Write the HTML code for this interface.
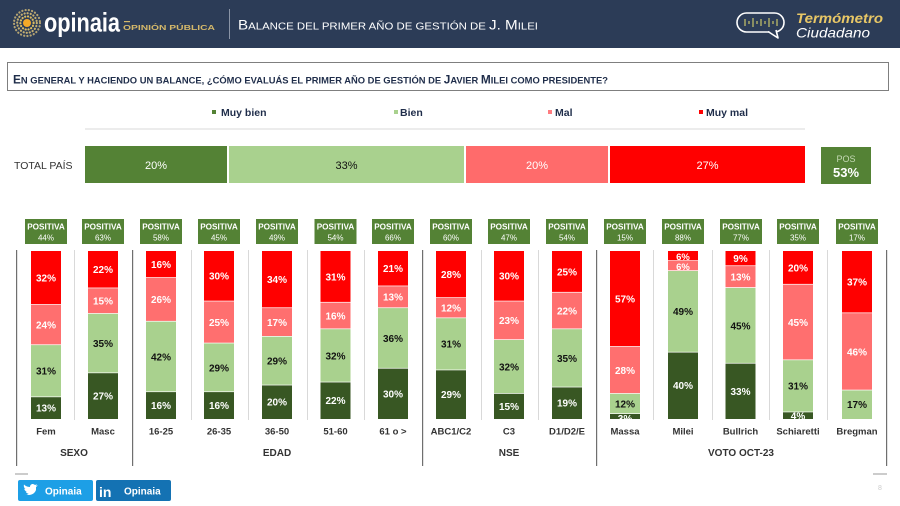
<!DOCTYPE html>
<html><head><meta charset="utf-8"><style>
html,body{margin:0;padding:0;background:#fff;}
svg{display:block;font-family:"Liberation Sans",sans-serif;}
.d{fill:#385723}.l{fill:#a9d18e}.p{fill:#ff6f6f}.r{fill:#ff0000}
.v text{font-size:10px;font-weight:bold;text-anchor:middle;}
.w{fill:#fff}.k{fill:#111}
.pb{fill:#548235}
.pt{font-size:8.2px;font-weight:bold;fill:#fff;text-anchor:middle}
.pp{font-size:8px;fill:#fff;text-anchor:middle}
.cl{font-size:9.5px;font-weight:bold;fill:#333;text-anchor:middle}
.gl{font-size:10px;font-weight:bold;fill:#333;text-anchor:middle}
.lg{font-size:10.5px;font-weight:bold;fill:#1f2d4a}
</style></head><body>
<svg width="900" height="506" viewBox="0 0 900 506" xmlns="http://www.w3.org/2000/svg">
<defs><clipPath id="bc"><rect x="0" y="251" width="900" height="168"/></clipPath></defs>
<!-- header -->
<rect x="0" y="0" width="900" height="48" fill="#2c3c57"/>
<circle cx="27" cy="23" r="13" fill="none" stroke="#b5a472" stroke-width="2.2" stroke-dasharray="0.1 3.2" stroke-linecap="round"/>
<circle cx="27" cy="23" r="9.8" fill="none" stroke="#c6b071" stroke-width="2.2" stroke-dasharray="0.1 3" stroke-linecap="round"/>
<circle cx="27" cy="23" r="6.6" fill="none" stroke="#d9bb62" stroke-width="2.2" stroke-dasharray="0.1 2.8" stroke-linecap="round"/>
<circle cx="27" cy="23" r="4" fill="#f3a928"/>
<text x="44" y="31.5" font-size="27" font-weight="bold" fill="#fff" textLength="76" lengthAdjust="spacingAndGlyphs">opinaia</text>
<rect x="124" y="21" width="6" height="1.2" fill="#d4b86a"/>
<text x="123" y="30" font-size="7" font-weight="bold" fill="#d4b86a" textLength="92" lengthAdjust="spacingAndGlyphs">OPINIÓN PÚBLICA</text>
<rect x="229" y="9" width="1" height="30" fill="#8a94a6"/>
<text x="238" y="29.5" fill="#fff" textLength="300" lengthAdjust="spacingAndGlyphs"><tspan font-size="14">B</tspan><tspan font-size="10.5">ALANCE DEL PRIMER AÑO DE GESTIÓN DE </tspan><tspan font-size="14">J. M</tspan><tspan font-size="10.5">ILEI</tspan></text>
<rect x="737" y="13" width="47" height="19" rx="9.5" fill="none" stroke="#fff" stroke-width="1.6"/>
<path d="M768,31.5 L778,38 L776,30" fill="#2c3c57" stroke="#fff" stroke-width="1.6" stroke-linejoin="round"/>
<g stroke="#c8c46a" stroke-width="1.2">
<line x1="745" y1="19" x2="745" y2="26"/><line x1="749" y1="21" x2="749" y2="24"/><line x1="753" y1="18" x2="753" y2="27"/><line x1="757" y1="21" x2="757" y2="24"/><line x1="761" y1="19" x2="761" y2="26"/><line x1="765" y1="21" x2="765" y2="24"/><line x1="769" y1="18" x2="769" y2="27"/><line x1="773" y1="21" x2="773" y2="24"/><line x1="777" y1="19" x2="777" y2="26"/>
</g>
<text x="796" y="23" font-size="14" font-weight="bold" font-style="italic" fill="#e8c766" textLength="87" lengthAdjust="spacingAndGlyphs">Termómetro</text>
<text x="796" y="37.5" font-size="14" font-style="italic" fill="#fff" textLength="74" lengthAdjust="spacingAndGlyphs">Ciudadano</text>

<!-- question -->
<rect x="7.5" y="62.5" width="881" height="28" fill="none" stroke="#7f7f7f" stroke-width="1"/>
<text x="13" y="83.5" fill="#1f2d4a" font-weight="bold" textLength="595" lengthAdjust="spacingAndGlyphs"><tspan font-size="12">E</tspan><tspan font-size="9.5">N GENERAL Y HACIENDO UN BALANCE, ¿CÓMO EVALUÁS EL PRIMER AÑO DE GESTIÓN DE </tspan><tspan font-size="12">J</tspan><tspan font-size="9.5">AVIER </tspan><tspan font-size="12">M</tspan><tspan font-size="9.5">ILEI COMO PRESIDENTE?</tspan></text>

<!-- legend -->
<rect x="212" y="110" width="4" height="4" fill="#548235"/><text class="lg" x="221" y="116">Muy bien</text>
<rect x="394" y="110" width="4" height="4" fill="#a9d18e"/><text class="lg" x="400" y="116">Bien</text>
<rect x="548" y="110" width="4" height="4" fill="#ff7c80"/><text class="lg" x="555" y="116">Mal</text>
<rect x="699" y="110" width="4" height="4" fill="#ff0000"/><text class="lg" x="706" y="116">Muy mal</text>
<rect x="85" y="128.5" width="720" height="1" fill="#d9d9d9"/>

<!-- total -->
<text x="14" y="169" font-size="10.5" fill="#333">TOTAL PAÍS</text>
<rect x="85" y="146" width="142" height="37" fill="#548235"/>
<rect x="229" y="146" width="235" height="37" fill="#a9d18e"/>
<rect x="466" y="146" width="142" height="37" fill="#ff6b6b"/>
<rect x="610" y="146" width="195" height="37" fill="#ff0000"/>
<g font-size="11" text-anchor="middle">
<text x="156" y="169" fill="#fff">20%</text>
<text x="346.5" y="169" fill="#111">33%</text>
<text x="537" y="169" fill="#fff">20%</text>
<text x="707.5" y="169" fill="#fff">27%</text>
</g>
<rect x="821" y="147" width="50" height="37" fill="#548235"/>
<text x="846" y="162" font-size="9" fill="#c5d9b5" text-anchor="middle">POS</text>
<text x="846" y="177" font-size="13" font-weight="bold" fill="#fff" text-anchor="middle">53%</text>

<!-- separators -->
<g fill="#d9d9d9">
<rect x="74" y="250" width="1" height="170"/><rect x="191" y="250" width="1" height="170"/><rect x="248" y="250" width="1" height="170"/><rect x="307" y="250" width="1" height="170"/><rect x="364" y="250" width="1" height="170"/><rect x="481" y="250" width="1" height="170"/><rect x="538" y="250" width="1" height="170"/><rect x="653" y="250" width="1" height="170"/><rect x="712" y="250" width="1" height="170"/><rect x="769" y="250" width="1" height="170"/><rect x="827" y="250" width="1" height="170"/>
</g>
<g fill="#6f6f6f">
<rect x="16" y="250" width="1.2" height="216"/><rect x="132" y="250" width="1.2" height="216"/><rect x="422" y="250" width="1.2" height="216"/><rect x="596" y="250" width="1.2" height="216"/><rect x="886" y="250" width="1.2" height="216"/>
</g>
<rect x="15" y="473.5" width="13" height="1" fill="#999"/>
<rect x="873" y="473.5" width="14" height="1" fill="#999"/>
<text x="880" y="490" font-size="7" fill="#ccc" text-anchor="middle">8</text>

<!-- positiva boxes -->
<g>
<rect class="pb" x="25" y="219" width="42" height="25"/><text class="pt" x="46" y="229.5">POSITIVA</text><text class="pp" x="46" y="240.5">44%</text>
<rect class="pb" x="82" y="219" width="42" height="25"/><text class="pt" x="103" y="229.5">POSITIVA</text><text class="pp" x="103" y="240.5">63%</text>
<rect class="pb" x="140" y="219" width="42" height="25"/><text class="pt" x="161" y="229.5">POSITIVA</text><text class="pp" x="161" y="240.5">58%</text>
<rect class="pb" x="198" y="219" width="42" height="25"/><text class="pt" x="219" y="229.5">POSITIVA</text><text class="pp" x="219" y="240.5">45%</text>
<rect class="pb" x="256" y="219" width="42" height="25"/><text class="pt" x="277" y="229.5">POSITIVA</text><text class="pp" x="277" y="240.5">49%</text>
<rect class="pb" x="314.5" y="219" width="42" height="25"/><text class="pt" x="335.5" y="229.5">POSITIVA</text><text class="pp" x="335.5" y="240.5">54%</text>
<rect class="pb" x="372" y="219" width="42" height="25"/><text class="pt" x="393" y="229.5">POSITIVA</text><text class="pp" x="393" y="240.5">66%</text>
<rect class="pb" x="430" y="219" width="42" height="25"/><text class="pt" x="451" y="229.5">POSITIVA</text><text class="pp" x="451" y="240.5">60%</text>
<rect class="pb" x="488" y="219" width="42" height="25"/><text class="pt" x="509" y="229.5">POSITIVA</text><text class="pp" x="509" y="240.5">47%</text>
<rect class="pb" x="546" y="219" width="42" height="25"/><text class="pt" x="567" y="229.5">POSITIVA</text><text class="pp" x="567" y="240.5">54%</text>
<rect class="pb" x="604" y="219" width="42" height="25"/><text class="pt" x="625" y="229.5">POSITIVA</text><text class="pp" x="625" y="240.5">15%</text>
<rect class="pb" x="662" y="219" width="42" height="25"/><text class="pt" x="683" y="229.5">POSITIVA</text><text class="pp" x="683" y="240.5">88%</text>
<rect class="pb" x="720" y="219" width="42" height="25"/><text class="pt" x="741" y="229.5">POSITIVA</text><text class="pp" x="741" y="240.5">77%</text>
<rect class="pb" x="777" y="219" width="42" height="25"/><text class="pt" x="798" y="229.5">POSITIVA</text><text class="pp" x="798" y="240.5">35%</text>
<rect class="pb" x="836" y="219" width="42" height="25"/><text class="pt" x="857" y="229.5">POSITIVA</text><text class="pp" x="857" y="240.5">17%</text>
</g>

<!-- bars -->
<g class="v">
<rect class="d" x="31" y="397.2" width="30" height="21.8"/><rect class="l" x="31" y="345.1" width="30" height="51.4"/><rect class="p" x="31" y="304.8" width="30" height="39.6"/><rect class="r" x="31" y="251" width="30" height="53.1"/>
<rect class="d" x="88" y="373.2" width="30" height="45.8"/><rect class="l" x="88" y="313.8" width="30" height="58.7"/><rect class="p" x="88" y="288.3" width="30" height="24.8"/><rect class="r" x="88" y="251" width="30" height="36.6"/>
<rect class="d" x="146" y="392.1" width="30" height="26.9"/><rect class="l" x="146" y="321.6" width="30" height="69.8"/><rect class="p" x="146" y="277.9" width="30" height="43"/><rect class="r" x="146" y="251" width="30" height="26.2"/>
<rect class="d" x="204" y="392.1" width="30" height="26.9"/><rect class="l" x="204" y="343.4" width="30" height="48"/><rect class="p" x="204" y="301.4" width="30" height="41.3"/><rect class="r" x="204" y="251" width="30" height="49.7"/>
<rect class="d" x="262" y="385.4" width="30" height="33.6"/><rect class="l" x="262" y="336.7" width="30" height="48"/><rect class="p" x="262" y="308.1" width="30" height="27.9"/><rect class="r" x="262" y="251" width="30" height="56.4"/>
<rect class="d" x="320.5" y="382.4" width="30" height="36.6"/><rect class="l" x="320.5" y="329.2" width="30" height="52.5"/><rect class="p" x="320.5" y="302.6" width="30" height="25.9"/><rect class="r" x="320.5" y="251" width="30" height="50.9"/>
<rect class="d" x="378" y="368.6" width="30" height="50.4"/><rect class="l" x="378" y="308.1" width="30" height="59.8"/><rect class="p" x="378" y="286.3" width="30" height="21.1"/><rect class="r" x="378" y="251" width="30" height="34.6"/>
<rect class="d" x="436" y="370.3" width="30" height="48.7"/><rect class="l" x="436" y="318.2" width="30" height="51.4"/><rect class="p" x="436" y="298" width="30" height="19.5"/><rect class="r" x="436" y="251" width="30" height="46.3"/>
<rect class="d" x="494" y="393.8" width="30" height="25.2"/><rect class="l" x="494" y="340" width="30" height="53.1"/><rect class="p" x="494" y="301.4" width="30" height="37.9"/><rect class="r" x="494" y="251" width="30" height="49.7"/>
<rect class="d" x="552" y="387.4" width="30" height="31.6"/><rect class="l" x="552" y="329.2" width="30" height="57.5"/><rect class="p" x="552" y="292.6" width="30" height="35.9"/><rect class="r" x="552" y="251" width="30" height="40.9"/>
<rect class="d" x="610" y="414" width="30" height="5"/><rect class="l" x="610" y="393.8" width="30" height="19.5"/><rect class="p" x="610" y="346.8" width="30" height="46.3"/><rect class="r" x="610" y="251" width="30" height="95.1"/>
<rect class="d" x="668" y="352.5" width="30" height="66.5"/><rect class="l" x="668" y="271" width="30" height="80.8"/><rect class="p" x="668" y="261" width="30" height="9.3"/><rect class="r" x="668" y="251" width="30" height="9.3"/>
<rect class="d" x="725.5" y="363.6" width="30" height="55.4"/><rect class="l" x="725.5" y="288" width="30" height="74.9"/><rect class="p" x="725.5" y="266.1" width="30" height="21.1"/><rect class="r" x="725.5" y="251" width="30" height="14.4"/>
<rect class="d" x="783" y="412.3" width="30" height="6.7"/><rect class="l" x="783" y="360.2" width="30" height="51.4"/><rect class="p" x="783" y="284.6" width="30" height="74.9"/><rect class="r" x="783" y="251" width="30" height="32.9"/>
<rect class="l" x="842" y="390.4" width="30" height="28.6"/><rect class="p" x="842" y="313.2" width="30" height="76.5"/><rect class="r" x="842" y="251" width="30" height="61.5"/>

<g clip-path="url(#bc)">
<text class="w" x="46" y="411.6">13%</text><text class="k" x="46" y="374.6">31%</text><text class="w" x="46" y="328.4">24%</text><text class="w" x="46" y="281.4">32%</text>
<text class="w" x="103" y="399.6">27%</text><text class="k" x="103" y="347">35%</text><text class="w" x="103" y="304.6">15%</text><text class="w" x="103" y="273.2">22%</text>
<text class="w" x="161" y="409.1">16%</text><text class="k" x="161" y="360.3">42%</text><text class="w" x="161" y="303.2">26%</text><text class="w" x="161" y="267.9">16%</text>
<text class="w" x="219" y="409.1">16%</text><text class="k" x="219" y="371.3">29%</text><text class="w" x="219" y="325.9">25%</text><text class="w" x="219" y="279.7">30%</text>
<text class="w" x="277" y="405.7">20%</text><text class="k" x="277" y="364.5">29%</text><text class="w" x="277" y="325.9">17%</text><text class="w" x="277" y="283.1">34%</text>
<text class="w" x="335.5" y="404.2">22%</text><text class="k" x="335.5" y="359.3">32%</text><text class="w" x="335.5" y="319.4">16%</text><text class="w" x="335.5" y="280.3">31%</text>
<text class="w" x="393" y="397.3">30%</text><text class="k" x="393" y="341.9">36%</text><text class="w" x="393" y="300.7">13%</text><text class="w" x="393" y="272.1">21%</text>
<text class="w" x="451" y="398.1">29%</text><text class="k" x="451" y="347.7">31%</text><text class="w" x="451" y="311.6">12%</text><text class="w" x="451" y="278">28%</text>
<text class="w" x="509" y="409.9">15%</text><text class="k" x="509" y="370.4">32%</text><text class="w" x="509" y="324.2">23%</text><text class="w" x="509" y="279.7">30%</text>
<text class="w" x="567" y="406.7">19%</text><text class="k" x="567" y="361.8">35%</text><text class="w" x="567" y="314.4">22%</text><text class="w" x="567" y="275.3">25%</text>
<text class="w" x="625" y="422">3%</text><text class="k" x="625" y="407.4">12%</text><text class="w" x="625" y="373.8">28%</text><text class="w" x="625" y="302.4">57%</text>
<text class="w" x="683" y="389.2">40%</text><text class="k" x="683" y="315.2">49%</text><text class="w" x="683" y="269.8" style="font-size:9.5px">6%</text><text class="w" x="683" y="259.8" style="font-size:9.5px">6%</text>
<text class="w" x="740.5" y="394.8">33%</text><text class="k" x="740.5" y="329.3">45%</text><text class="w" x="740.5" y="280.5">13%</text><text class="w" x="740.5" y="262.1">9%</text>
<text class="w" x="798" y="419.5">4%</text><text class="k" x="798" y="389.7">31%</text><text class="w" x="798" y="325.9">45%</text><text class="w" x="798" y="271.3">20%</text>
<text class="k" x="857" y="408.2">17%</text><text class="w" x="857" y="355.3">46%</text><text class="w" x="857" y="285.6">37%</text>
</g>
</g>

<!-- category labels -->
<text class="cl" x="46" y="434.5">Fem</text>
<text class="cl" x="103" y="434.5">Masc</text>
<text class="cl" x="161" y="434.5">16-25</text>
<text class="cl" x="219" y="434.5">26-35</text>
<text class="cl" x="277" y="434.5">36-50</text>
<text class="cl" x="335.5" y="434.5">51-60</text>
<text class="cl" x="393" y="434.5">61 o &gt;</text>
<text class="cl" x="451" y="434.5">ABC1/C2</text>
<text class="cl" x="509" y="434.5">C3</text>
<text class="cl" x="567" y="434.5">D1/D2/E</text>
<text class="cl" x="625" y="434.5">Massa</text>
<text class="cl" x="683" y="434.5">Milei</text>
<text class="cl" x="740.5" y="434.5">Bullrich</text>
<text class="cl" x="798" y="434.5">Schiaretti</text>
<text class="cl" x="857" y="434.5">Bregman</text>

<text class="gl" x="74" y="456">SEXO</text>
<text class="gl" x="277" y="456">EDAD</text>
<text class="gl" x="509" y="456">NSE</text>
<text class="gl" x="741" y="456">VOTO OCT-23</text>

<!-- footer buttons -->
<rect x="18" y="480" width="75" height="21" rx="2" fill="#1d9fe6"/>
<path d="M25,494 C29,496 34,495 36,490 L36,487 L38,485.5 L36,485.8 L37,484.3 L35,485 C33,483 30,484 30,487 C27,487 25,485.5 24,484.5 C23.5,486 24,488 25.5,489 L24.3,488.8 C24.5,490.5 25.5,491.3 27,491.6 L25.7,491.8 C26.3,493 27.5,493.6 28.6,493.7 C27.5,494.5 26.3,494.8 25,494 Z" fill="#fff"/>
<text x="45" y="494.5" font-size="10" font-weight="bold" fill="#fff">Opinaia</text>
<rect x="96" y="480" width="75" height="21" rx="2" fill="#1472b3"/>
<text x="99" y="497" font-size="14" font-weight="bold" fill="#fff">in</text>
<text x="124" y="494.5" font-size="10" font-weight="bold" fill="#fff">Opinaia</text>
</svg>
</body></html>
